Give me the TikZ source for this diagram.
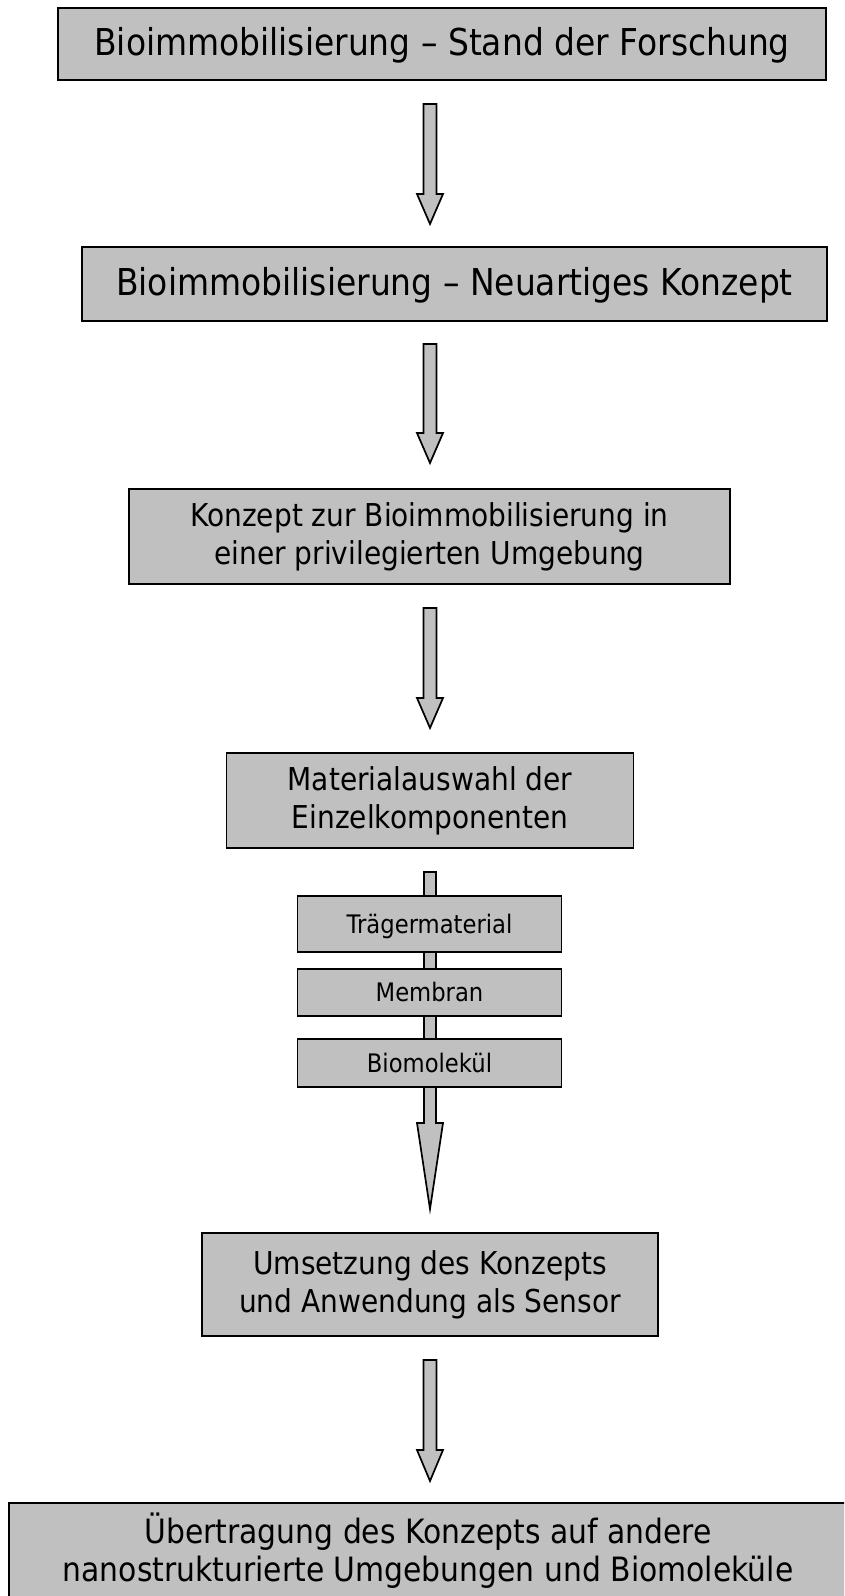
\documentclass[tikz,border=0pt]{standalone}
\usepackage{fontspec}
\setmainfont[FakeStretch=0.89]{DejaVu Sans}
\usetikzlibrary{calc}
\definecolor{boxgray}{HTML}{C0C0C0}
\tikzset{
  box/.style={draw=black, line width=1.7pt, fill=boxgray, inner sep=0pt, align=center, text=black},
  bigfont/.style={font=\fontsize{37}{44}\selectfont, text height=28pt, text depth=6pt},
  midfont/.style={font=\fontsize{31.5}{38}\selectfont},
  smallfont/.style={font=\fontsize{25.5}{30}\selectfont, text height=20pt, text depth=2pt},
  blockarrow/.style={draw=black, line width=1.7pt, fill=boxgray, line join=miter},
}
% top, tip, shaft half width, head half width, head length
\newcommand\barrow[5]{%
  \filldraw[blockarrow] let \p1=(#1), \p2=(#2) in
    (\x1-#3pt,\y1) -- (\x1+#3pt,\y1) -- (\x1+#3pt,\y2+#5pt) -- (\x1+#4pt,\y2+#5pt)
    -- (\x2,\y2) -- (\x1-#4pt,\y2+#5pt) -- (\x1-#3pt,\y2+#5pt) -- cycle;}
\begin{document}
\begin{tikzpicture}[x=1pt,y=-1pt]
\useasboundingbox (0,0) rectangle (844,1596);
\fill[white] (0,0) rectangle (844,1596);
\clip (0,0) rectangle (844,1596);

\node[box, bigfont, minimum width=768pt, minimum height=72pt] (b1) at (442,44)
  {Bioimmobilisierung – Stand der Forschung};
\node[box, bigfont, minimum width=745pt, minimum height=74pt] (b2) at (454.5,284)
  {Bioimmobilisierung – Neuartiges Konzept};
\node[box, midfont, minimum width=601pt, minimum height=95pt] (b3) at (429.5,536.5)
  {Konzept zur Bioimmobilisierung in\\einer privilegierten Umgebung};
\node[box, midfont, minimum width=407pt, minimum height=95pt] (b4) at (430,800.5)
  {Materialauswahl der\\Einzelkomponenten};
\node[box, midfont, minimum width=456pt, minimum height=103pt] (b5) at (430,1284.5)
  {Umsetzung des Konzepts\\und Anwendung als Sensor};
\node[box, font=\fontsize{33.5}{38}\selectfont, minimum width=838pt, minimum height=96pt] (b6) at (428,1551)
  {Übertragung des Konzepts auf andere\\nanostrukturierte Umgebungen und Biomoleküle};

\coordinate (a1s) at (430,104);  \coordinate (a1t) at (430,224);
\coordinate (a2s) at (430,344);  \coordinate (a2t) at (430,463);
\coordinate (a3s) at (430,608);  \coordinate (a3t) at (430,728);
\coordinate (a4s) at (430,872);  \coordinate (a4t) at (430,1209);
\coordinate (a5s) at (430,1360); \coordinate (a5t) at (430,1481);

\barrow{a1s}{a1t}{6.5}{13}{30}
\barrow{a2s}{a2t}{6.5}{13}{30}
\barrow{a3s}{a3t}{6.5}{13}{30}
\barrow{a4s}{a4t}{6}{13}{86}
\barrow{a5s}{a5t}{6.5}{13}{31}

\node[box, smallfont, minimum width=264pt, minimum height=56pt] (s1) at (429.5,924) {Trägermaterial};
\node[box, smallfont, minimum width=264pt, minimum height=47pt] (s2) at (429.5,992.5) {Membran};
\node[box, smallfont, minimum width=264pt, minimum height=48pt] (s3) at (429.5,1063) {Biomolekül};
\end{tikzpicture}
\end{document}
